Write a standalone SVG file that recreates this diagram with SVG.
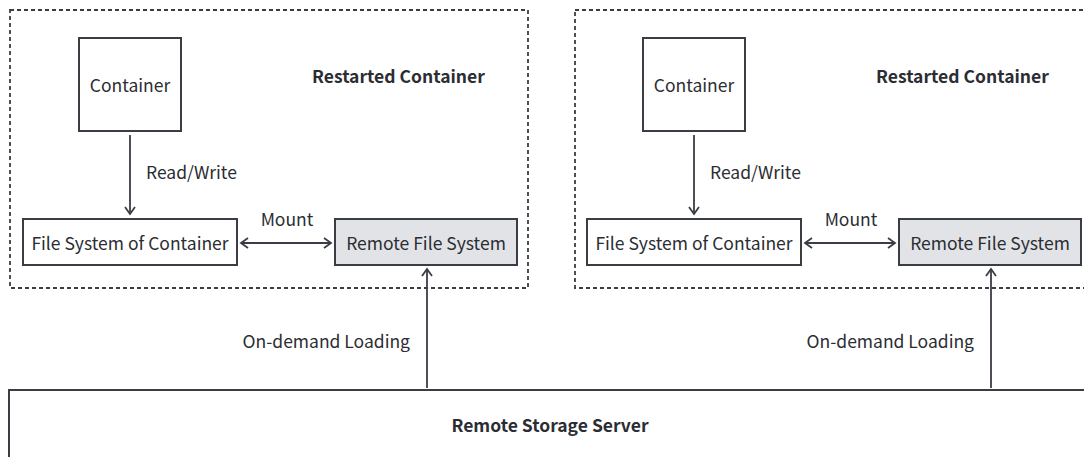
<svg xmlns="http://www.w3.org/2000/svg" width="1084" height="457" viewBox="0 0 1084 457">
<style>
text{font-family:"Noto Sans CJK SC","Source Sans Pro","Noto Sans",sans-serif;fill:#2b2d33;font-size:17.5px}
.b{font-weight:bold}
.m{text-anchor:middle}
.box{fill:#fff;stroke:#3a3d44;stroke-width:2}
.grey{fill:#e2e3e6;stroke:#3a3d44;stroke-width:2}
.dash{fill:none;stroke:#3a3d44;stroke-width:1.8;stroke-dasharray:4 3}
.c{fill:none;stroke:#3a3d44;stroke-width:1.8}
</style>
<defs>
<marker id="ah" viewBox="0 0 12 12" refX="10" refY="6" markerWidth="12" markerHeight="12" markerUnits="userSpaceOnUse" orient="auto-start-reverse">
<path d="M3,1 L10,6 L3,11" fill="none" stroke="#3a3d44" stroke-width="1.8"/>
</marker>
</defs>
<g id="group-left">
<rect class="dash" x="10" y="10" width="518" height="278"/>
<text class="b" x="312" y="83">Restarted Container</text>
</g>
<g id="group-right">
<rect class="dash" x="575" y="10" width="530" height="278"/>
<text class="b" x="876" y="83">Restarted Container</text>
</g>
<g id="container-left">
<rect class="box" x="79" y="38" width="102" height="93"/>
<text class="m" x="130" y="92">Container</text>
</g>
<g id="fs-left">
<rect class="box" x="23" y="219" width="214" height="46"/>
<text class="m" x="130" y="250">File System of Container</text>
</g>
<g id="remote-left">
<rect class="grey" x="335" y="219" width="182" height="46"/>
<text class="m" x="426" y="250">Remote File System</text>
</g>
<g id="container-right">
<rect class="box" x="643" y="38" width="102" height="93"/>
<text class="m" x="694" y="92">Container</text>
</g>
<g id="fs-right">
<rect class="box" x="587" y="219" width="214" height="46"/>
<text class="m" x="694" y="250">File System of Container</text>
</g>
<g id="remote-right">
<rect class="grey" x="899" y="219" width="182" height="46"/>
<text class="m" x="990" y="250">Remote File System</text>
</g>
<g id="storage">
<rect class="box" x="9" y="390" width="1100" height="100"/>
<text class="b m" x="550" y="432">Remote Storage Server</text>
</g>
<g id="connectors">
<line class="c" x1="130" y1="135" x2="130" y2="214" marker-end="url(#ah)"/>
<text x="146" y="179">Read/Write</text>
<line class="c" x1="241" y1="243" x2="331" y2="243" marker-start="url(#ah)" marker-end="url(#ah)"/>
<text class="m" x="287" y="226">Mount</text>
<line class="c" x1="427" y1="388" x2="427" y2="269" marker-end="url(#ah)"/>
<text x="410" y="348" text-anchor="end">On-demand Loading</text>
<line class="c" x1="694" y1="135" x2="694" y2="214" marker-end="url(#ah)"/>
<text x="710" y="179">Read/Write</text>
<line class="c" x1="805" y1="243" x2="895" y2="243" marker-start="url(#ah)" marker-end="url(#ah)"/>
<text class="m" x="851" y="226">Mount</text>
<line class="c" x1="991" y1="388" x2="991" y2="269" marker-end="url(#ah)"/>
<text x="974" y="348" text-anchor="end">On-demand Loading</text>
</g>
</svg>
